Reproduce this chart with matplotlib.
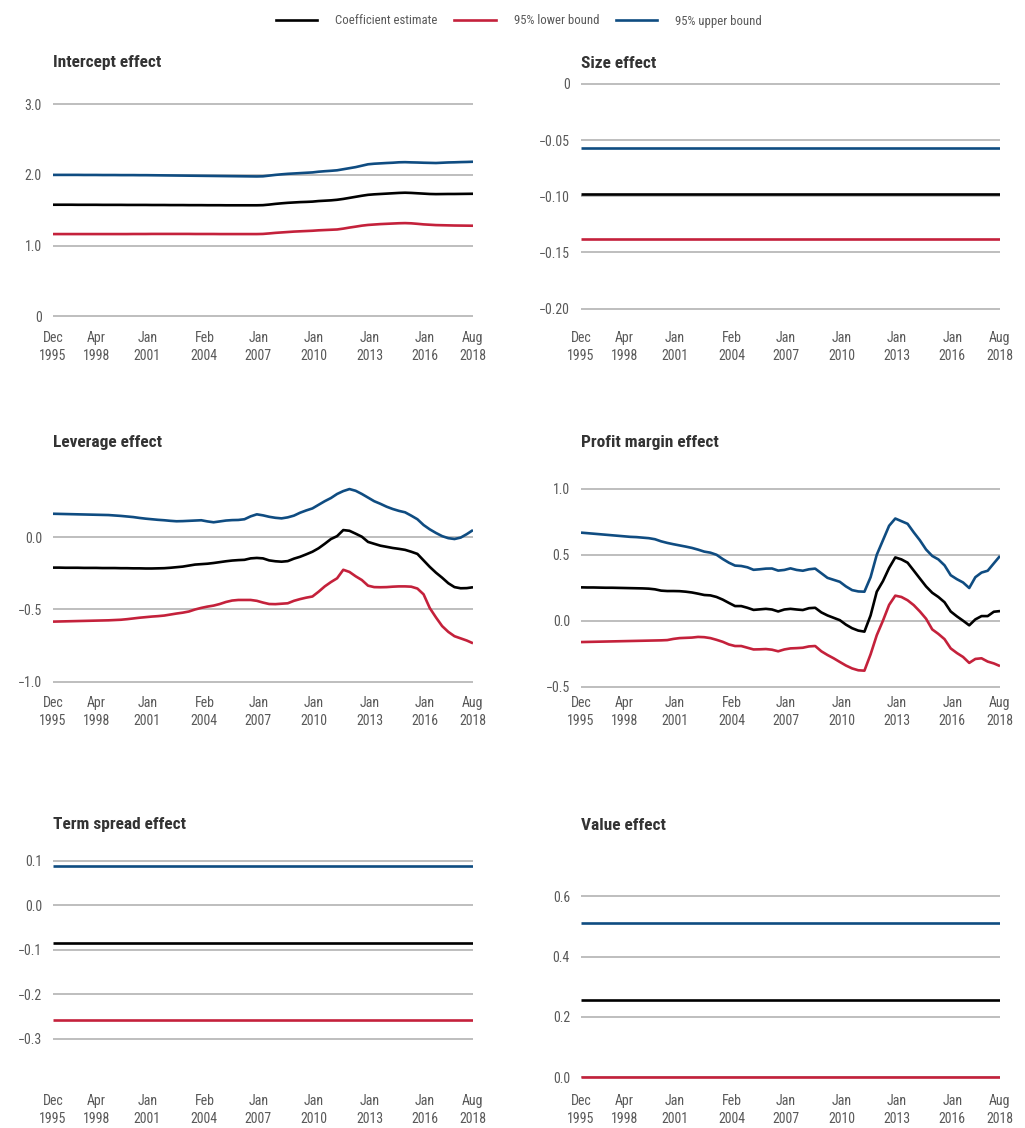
import matplotlib
matplotlib.use('Agg')
import matplotlib.pyplot as plt
from matplotlib.lines import Line2D
import pandas as pd

plt.rcParams['font.family'] = ['Roboto Condensed', 'Roboto', 'DejaVu Sans']

# rolling estimates, one value every four months from Dec 1995 to Aug 2018
dates = pd.date_range('1995-12-01', '2018-08-01', freq='4MS')
span = pd.to_datetime(['1995-12-01', '2018-08-01'])

tick_dates = pd.to_datetime(['1995-12-01', '1998-04-01', '2001-01-01', '2004-02-01',
                             '2007-01-01', '2010-01-01', '2013-01-01', '2016-01-01',
                             '2018-08-01'])
tick_labels = ['Dec\n1995', 'Apr\n1998', 'Jan\n2001', 'Feb\n2004', 'Jan\n2007',
               'Jan\n2010', 'Jan\n2013', 'Jan\n2016', 'Aug\n2018']

# each row: Dec, Apr, Aug
intercept_coef = [
    1.578, 1.578, 1.578,  1.578, 1.577, 1.577,  1.577, 1.577, 1.576,
    1.576, 1.576, 1.576,  1.575, 1.575, 1.575,  1.575, 1.574, 1.574,
    1.574, 1.573, 1.573,  1.573, 1.572, 1.572,  1.572, 1.571, 1.571,
    1.571, 1.570, 1.570,  1.570, 1.570, 1.570,  1.570, 1.572, 1.580,
    1.590, 1.598, 1.605,  1.610, 1.615, 1.618,  1.622, 1.630, 1.635,
    1.640, 1.648, 1.660,  1.675, 1.690, 1.705,  1.718, 1.725, 1.730,
    1.735, 1.740, 1.745,  1.748, 1.745, 1.740,  1.735, 1.730, 1.728,
    1.729, 1.730, 1.730,  1.731, 1.732, 1.733]
intercept_lower = [
    1.163, 1.163, 1.163,  1.163, 1.163, 1.163,  1.163, 1.163, 1.163,
    1.163, 1.163, 1.163,  1.163, 1.164, 1.164,  1.164, 1.165, 1.165,
    1.165, 1.165, 1.165,  1.165, 1.165, 1.164,  1.164, 1.164, 1.164,
    1.163, 1.163, 1.163,  1.163, 1.163, 1.163,  1.163, 1.165, 1.172,
    1.180, 1.186, 1.192,  1.198, 1.202, 1.206,  1.210, 1.216, 1.220,
    1.224, 1.228, 1.240,  1.255, 1.268, 1.282,  1.292, 1.298, 1.304,
    1.308, 1.312, 1.316,  1.318, 1.315, 1.308,  1.300, 1.295, 1.290,
    1.288, 1.286, 1.284,  1.283, 1.282, 1.281]
intercept_upper = [
    2.000, 2.000, 2.000,  2.000, 2.000, 1.999,  1.999, 1.999, 1.998,
    1.998, 1.998, 1.997,  1.997, 1.997, 1.996,  1.996, 1.995, 1.994,
    1.993, 1.992, 1.991,  1.990, 1.989, 1.988,  1.987, 1.986, 1.985,
    1.984, 1.983, 1.982,  1.981, 1.980, 1.979,  1.978, 1.980, 1.990,
    2.000, 2.008, 2.015,  2.020, 2.025, 2.030,  2.035, 2.045, 2.052,
    2.058, 2.065, 2.080,  2.095, 2.110, 2.130,  2.150, 2.158, 2.163,
    2.168, 2.172, 2.178,  2.180, 2.177, 2.175,  2.172, 2.170, 2.168,
    2.172, 2.176, 2.178,  2.181, 2.183, 2.186]

size_coef = [-0.0977, -0.0977]
size_lower = [-0.138, -0.138]
size_upper = [-0.057, -0.057]

leverage_coef = [
    -0.210, -0.210, -0.211,  -0.211, -0.211, -0.212,  -0.212, -0.212, -0.213,
    -0.213, -0.213, -0.214,  -0.214, -0.215, -0.215,  -0.216, -0.216, -0.215,
    -0.214, -0.211, -0.207,  -0.203, -0.196, -0.189,  -0.186, -0.183, -0.178,
    -0.172, -0.166, -0.161,  -0.158, -0.156, -0.146,  -0.143, -0.146, -0.160,
    -0.166, -0.169, -0.165,  -0.148, -0.135, -0.118,  -0.100, -0.076, -0.045,
    -0.012, 0.008, 0.050,  0.045, 0.025, 0.004,  -0.032, -0.045, -0.058,
    -0.066, -0.074, -0.080,  -0.087, -0.100, -0.115,  -0.160, -0.205, -0.245,
    -0.280, -0.318, -0.345,  -0.353, -0.352, -0.346]
leverage_lower = [
    -0.584, -0.583, -0.582,  -0.581, -0.580, -0.579,  -0.578, -0.577, -0.576,
    -0.575, -0.573, -0.571,  -0.567, -0.562, -0.557,  -0.553, -0.549, -0.546,
    -0.542, -0.535, -0.528,  -0.522, -0.514, -0.500,  -0.489, -0.480, -0.473,
    -0.462, -0.448, -0.438,  -0.434, -0.434, -0.434,  -0.440, -0.452, -0.462,
    -0.463, -0.460, -0.457,  -0.440, -0.428, -0.418,  -0.410, -0.377, -0.340,
    -0.310, -0.284, -0.225,  -0.240, -0.270, -0.296,  -0.335, -0.345, -0.346,
    -0.345, -0.342, -0.340,  -0.340, -0.342, -0.355,  -0.395, -0.490, -0.555,
    -0.615, -0.655, -0.685,  -0.700, -0.715, -0.734]
leverage_upper = [
    0.163, 0.162, 0.161,  0.160, 0.159, 0.158,  0.157, 0.156, 0.155,
    0.154, 0.151, 0.148,  0.144, 0.140, 0.134,  0.129, 0.125, 0.121,
    0.118, 0.114, 0.111,  0.112, 0.114, 0.116,  0.118, 0.110, 0.104,
    0.110, 0.116, 0.119,  0.120, 0.125, 0.145,  0.159, 0.152, 0.142,
    0.135, 0.131, 0.138,  0.150, 0.170, 0.186,  0.200, 0.225, 0.250,
    0.272, 0.300, 0.320,  0.334, 0.322, 0.300,  0.275, 0.250, 0.232,
    0.212, 0.196, 0.183,  0.173, 0.150, 0.125,  0.085, 0.055, 0.030,
    0.008, -0.006, -0.012,  -0.002, 0.022, 0.050]

margin_coef = [
    0.253, 0.252, 0.252,  0.251, 0.250, 0.250,  0.249, 0.248, 0.247,
    0.246, 0.245, 0.243,  0.238, 0.228, 0.225,  0.225, 0.224, 0.220,
    0.214, 0.205, 0.195,  0.192, 0.180, 0.160,  0.135, 0.111, 0.111,
    0.098, 0.082, 0.086,  0.090, 0.085, 0.070,  0.085, 0.090, 0.085,
    0.081, 0.095, 0.098,  0.063, 0.040, 0.022,  0.004, -0.030, -0.057,
    -0.075, -0.083, 0.040,  0.220, 0.300, 0.400,  0.480, 0.465, 0.440,
    0.380, 0.320, 0.260,  0.212, 0.180, 0.140,  0.070, 0.033, 0.000,
    -0.035, 0.010, 0.035,  0.035, 0.068, 0.073]
margin_lower = [
    -0.162, -0.161, -0.160,  -0.159, -0.158, -0.157,  -0.156, -0.155, -0.154,
    -0.153, -0.152, -0.151,  -0.150, -0.149, -0.147,  -0.138, -0.132, -0.130,
    -0.128, -0.123, -0.125,  -0.132, -0.145, -0.160,  -0.180, -0.192, -0.192,
    -0.205, -0.218, -0.217,  -0.215, -0.220, -0.232,  -0.218, -0.210, -0.208,
    -0.205, -0.195, -0.192,  -0.232, -0.260, -0.285,  -0.313, -0.340, -0.362,
    -0.376, -0.379, -0.255,  -0.110, 0.000, 0.120,  0.190, 0.180, 0.155,
    0.118, 0.070, 0.015,  -0.066, -0.100, -0.140,  -0.210, -0.245, -0.275,
    -0.320, -0.290, -0.285,  -0.310, -0.324, -0.344]
margin_upper = [
    0.668, 0.664, 0.660,  0.656, 0.652, 0.648,  0.644, 0.640, 0.636,
    0.634, 0.630, 0.626,  0.618, 0.602, 0.590,  0.580, 0.571, 0.562,
    0.552, 0.539, 0.524,  0.516, 0.500, 0.468,  0.440, 0.418, 0.415,
    0.405, 0.386, 0.390,  0.395, 0.396, 0.380,  0.385, 0.397, 0.385,
    0.379, 0.390, 0.395,  0.360, 0.325, 0.310,  0.295, 0.260, 0.232,
    0.222, 0.220, 0.330,  0.500, 0.610, 0.720,  0.775, 0.755, 0.735,
    0.670, 0.610, 0.540,  0.491, 0.465, 0.420,  0.345, 0.315, 0.290,
    0.248, 0.330, 0.365,  0.379, 0.435, 0.491]

term_coef = [-0.0854, -0.0854]
term_lower = [-0.258, -0.258]
term_upper = [0.089, 0.089]

value_coef = [0.255, 0.255]
value_lower = [0.001, 0.001]
value_upper = [0.511, 0.511]

BLACK = '#000000'
RED = '#c4213b'
BLUE = '#0f4c81'
GRID = '#b3b3b3'
TICK = '#595959'
TITLE = '#333333'

W, H = 1025, 1128


def px_rect(x0, x1, ytop, ybot):
    return [x0 / W, 1 - ybot / H, (x1 - x0) / W, (ybot - ytop) / H]


# title, x values, (coef, lower, upper), yticks, ytick labels, axes box in px, ylim, title row
panels = [
    ('Intercept effect', dates, (intercept_coef, intercept_lower, intercept_upper),
     [0, 1, 2, 3], ['0', '1.0', '2.0', '3.0'],
     (53, 473, 95, 324), (-0.109, 3.130), 63),
    ('Size effect', span, (size_coef, size_lower, size_upper),
     [0, -0.05, -0.10, -0.15, -0.20], ['0', '\u22120.05', '\u22120.10', '\u22120.15', '\u22120.20'],
     (581, 1000, 76, 324), (-0.2137, 0.0071), 63),
    ('Leverage effect', dates, (leverage_coef, leverage_lower, leverage_upper),
     [0, -0.5, -1.0], ['0.0', '\u22120.5', '\u22121.0'],
     (53, 473, 470, 689), (-1.0506, 0.466), 443),
    ('Profit margin effect', dates, (margin_coef, margin_lower, margin_upper),
     [1.0, 0.5, 0.0, -0.5], ['1.0', '0.5', '0.0', '\u22120.5'],
     (581, 1000, 470, 689), (-0.518, 1.143), 443),
    ('Term spread effect', span, (term_coef, term_lower, term_upper),
     [0.1, 0.0, -0.1, -0.2, -0.3], ['0.1', '0.0', '\u22120.1', '\u22120.2', '\u22120.3'],
     (53, 473, 850, 1087), (-0.408, 0.1243), 825),
    ('Value effect', span, (value_coef, value_lower, value_upper),
     [0.6, 0.4, 0.2, 0.0], ['0.6', '0.4', '0.2', '0.0'],
     (581, 1000, 850, 1087), (-0.032, 0.7527), 825),
]

fig = plt.figure(figsize=(W / 100, H / 100), dpi=100)

for title, x, (coef, lower, upper), yt, ytl, (x0, x1, yt_px, yb_px), ylim, title_y in panels:
    ax = fig.add_axes(px_rect(x0, x1, yt_px, yb_px))
    ax.plot(x, upper, color=BLUE, lw=1.9, solid_capstyle='butt')
    ax.plot(x, lower, color=RED, lw=1.9, solid_capstyle='butt')
    ax.plot(x, coef, color=BLACK, lw=1.9, solid_capstyle='butt')

    ax.set_xlim(span[0], span[1])
    ax.set_ylim(*ylim)
    ax.set_yticks(yt)
    ax.set_yticklabels(ytl)
    ax.set_xticks(tick_dates)
    ax.set_xticklabels(tick_labels)
    for lbl in ax.get_xticklabels():
        lbl.set_linespacing(1.4)

    ax.set_axisbelow(True)
    ax.yaxis.grid(True, color=GRID, lw=1.2)
    ax.xaxis.grid(False)
    for s in ax.spines.values():
        s.set_visible(False)
    ax.tick_params(axis='both', length=0, labelsize=10, labelcolor=TICK)
    ax.tick_params(axis='x', pad=5)
    ax.tick_params(axis='y', pad=8)

    fig.text(x0 / W, 1 - title_y / H, title, ha='left', va='center',
             fontsize=12.5, fontweight='bold', color=TITLE)

handles = [Line2D([], [], color=BLACK, lw=1.9),
           Line2D([], [], color=RED, lw=1.9),
           Line2D([], [], color=BLUE, lw=1.9)]
leg = fig.legend(handles, ['Coefficient estimate', '95% lower bound', '95% upper bound'],
                 loc='center', bbox_to_anchor=(519 / W, 1 - 21 / H), ncol=3,
                 frameon=False, fontsize=9.2, handlelength=3.25, handletextpad=1.4,
                 columnspacing=1.3)
for t in leg.get_texts():
    t.set_color(TICK)

fig.savefig('out.png', dpi=100)
